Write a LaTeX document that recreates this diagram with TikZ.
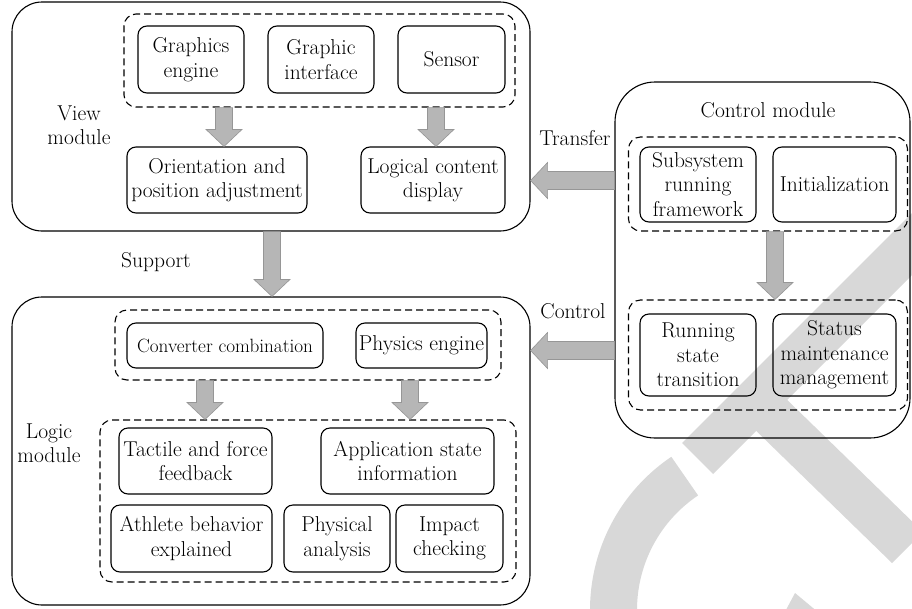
\documentclass[tikz,border=0pt]{standalone}
\usepackage{fontspec}
\usetikzlibrary{calc}
\definecolor{arrowfill}{RGB}{182,182,182}
\definecolor{arrowline}{RGB}{150,150,150}
\definecolor{wm}{RGB}{216,216,216}
\newcommand\fsmain{\fontsize{21.5}{24.5}\selectfont\addfontfeatures{FakeBold=0.5}}
\newcommand\fssmall{\fontsize{19.2}{22}\selectfont\addfontfeatures{FakeBold=0.5}}
\newcommand\FatDown[2]{%
  \path[fatarrow] let \p1=#1, \p2=#2 in
   (\x1-8.5pt,\y1) -- (\x1-8.5pt,\y2+17pt) -- (\x1-18pt,\y2+17pt) -- (\x1,\y2)
   -- (\x1+18pt,\y2+17pt) -- (\x1+8.5pt,\y2+17pt) -- (\x1+8.5pt,\y1) -- cycle;}
\newcommand\FatLeft[2]{%
  \path[fatarrow] let \p1=#1, \p2=#2 in
   (\x1,\y1+9pt) -- (\x2+17pt,\y1+9pt) -- (\x2+17pt,\y1+18pt) -- (\x2,\y1)
   -- (\x2+17pt,\y1-18pt) -- (\x2+17pt,\y1-9pt) -- (\x1,\y1-9pt) -- cycle;}
\tikzset{
  box/.style={draw, rounded corners=9pt, line width=1.1pt, align=center, inner sep=0pt, font=\fsmain},
  module/.style={draw, line width=1.1pt, inner sep=0pt},
  group/.style={draw, dashed, dash pattern=on 7pt off 4pt, line width=1.1pt, rounded corners=12pt, inner sep=0pt},
  lbl/.style={align=center, inner sep=0pt, font=\fsmain},
  fatarrow/.style={fill=arrowfill, draw=arrowline, line width=0.6pt},
}
\begin{document}
\begin{tikzpicture}[x=1pt,y=-1pt]
\useasboundingbox (0,0) rectangle (912,608);
% watermark
\begin{scope}
  \clip (0,0) rectangle (912,608);
  \fill[wm] (682,443) -- (713,474) -- (1013,174) -- (982,143) -- cycle;
  \fill[wm] (747,422) -- (892,563) -- (923,532) -- (778,391) -- cycle;
  \draw[wm, line width=47pt] (684.7,476.1) arc[start angle=236, end angle=100, radius=161.5];
  \fill[wm] (795,593) -- (831,623) -- (779,623) -- cycle;
\end{scope}

% View module
\node[module, rounded corners=30pt, minimum width=518pt, minimum height=229pt] (view) at (271,116.5) {};
\node[group, minimum width=391pt, minimum height=93pt] (dV) at (319.5,60.5) {};
\node[box, minimum width=106pt, minimum height=67pt] (ge) at (191,59.5) {Graphics\\engine};
\node[box, minimum width=106pt, minimum height=67pt] (gi) at (321,59.5) {Graphic\\interface};
\node[box, minimum width=107pt, minimum height=67pt] (se) at (451.5,59.5) {Sensor};
\node[box, minimum width=180pt, minimum height=66pt] (ori) at (217,180) {Orientation and\\position adjustment};
\node[box, minimum width=144pt, minimum height=66pt] (lcd) at (433,180) {Logical content\\display};
\node[lbl] (viewlbl) at (79,125) {View\\module};
\coordinate (va1) at (224,0);
\coordinate (va2) at (436,0);
\FatDown{(dV.south -| va1)}{(ori.north -| va1)}
\FatDown{(dV.south -| va2)}{(lcd.north -| va2)}

% Logic module
\node[module, rounded corners=30pt, minimum width=518pt, minimum height=308pt] (logic) at (271,451) {};
\node[group, minimum width=386pt, minimum height=70pt] (dL1) at (308,345) {};
\node[box, minimum width=196pt, minimum height=45pt, font=\fssmall] (conv) at (225,345.5) {Converter combination};
\node[box, minimum width=131pt, minimum height=45pt] (phys) at (421.5,345.5) {Physics engine};
\node[group, minimum width=416pt, minimum height=162pt] (dL2) at (308,501) {};
\node[box, minimum width=153pt, minimum height=66pt] (tac) at (195.5,461) {Tactile and force\\feedback};
\node[box, minimum width=173pt, minimum height=66pt] (app) at (407.5,461) {Application state\\information};
\node[box, minimum width=161pt, minimum height=67pt] (ath) at (191.5,538.5) {Athlete behavior\\explained};
\node[box, minimum width=106pt, minimum height=67pt] (pa) at (337,538.5) {Physical\\analysis};
\node[box, minimum width=107pt, minimum height=67pt] (ic) at (449.5,538.5) {Impact\\checking};
\node[lbl] (logiclbl) at (49,443) {Logic\\module};
\coordinate (la1) at (205,0);
\coordinate (la2) at (410,0);
\FatDown{(dL1.south -| la1)}{(dL2.north -| la1)}
\FatDown{(dL1.south -| la2)}{(dL2.north -| la2)}

% Support
\coordinate (sa) at (272,0);
\FatDown{(view.south -| sa)}{(logic.north -| sa)}
\node[lbl] (suplbl) at (156,262) {Support};

% Control module
\node[module, rounded corners=40pt, minimum width=295pt, minimum height=356pt] (ctrl) at (762.5,260) {};
\node[lbl] (ctrllbl) at (768,110) {Control module};
\node[group, minimum width=279pt, minimum height=94pt] (dC1) at (768,184) {};
\node[box, minimum width=116pt, minimum height=75pt] (sub) at (698,184.5) {Subsystem\\running\\framework};
\node[box, minimum width=123pt, minimum height=75pt] (ini) at (834.5,184.5) {Initialization};
\node[group, minimum width=279pt, minimum height=110pt] (dC2) at (768,355) {};
\node[box, minimum width=116pt, minimum height=82pt] (run) at (698,355) {Running\\state\\transition};
\node[box, minimum width=123pt, minimum height=82pt] (sta) at (834.5,355) {Status\\maintenance\\management};
\coordinate (ca) at (775,0);
\FatDown{(dC1.south -| ca)}{(dC2.north -| ca)}

% Transfer / Control arrows
\coordinate (ty) at (0,180.5);
\coordinate (cy) at (0,350.5);
\FatLeft{(ctrl.west |- ty)}{(view.east |- ty)}
\FatLeft{(ctrl.west |- cy)}{(logic.east |- cy)}
\node[lbl] (trlbl) at (575,138) {Transfer};
\node[lbl] (colbl) at (573,311) {Control};
\end{tikzpicture}
\end{document}
